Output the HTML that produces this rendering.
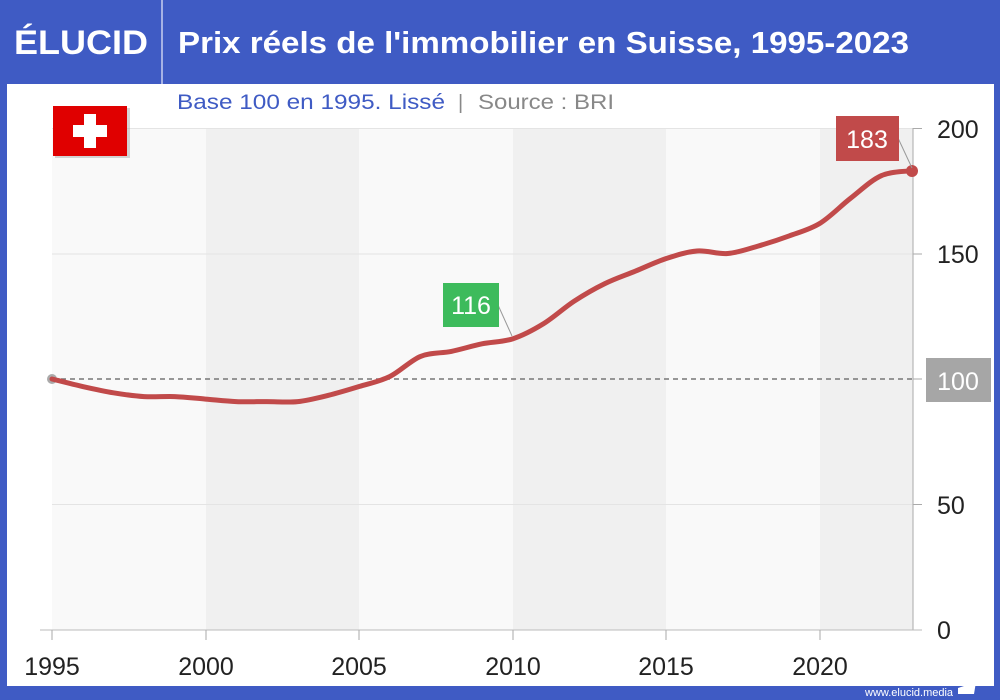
<!DOCTYPE html>
<html><head><meta charset="utf-8"><style>
body{margin:0;width:1000px;height:700px;background:#3f5bc4;font-family:"Liberation Sans",sans-serif;overflow:hidden;position:relative}
</style></head><body>
<svg width="1000" height="700" style="position:absolute;left:0;top:0">
<rect x="0" y="0" width="1000" height="700" fill="#3f5bc4"/>
<rect x="7" y="84" width="987" height="602" fill="#fff"/>
<line x1="162" y1="0" x2="162" y2="84" stroke="#c8d0f0" stroke-width="1.5"/>
<text x="14" y="54" font-size="34" font-weight="bold" fill="#fff" textLength="134" lengthAdjust="spacingAndGlyphs">ÉLUCID</text>
<text x="178" y="53" font-size="31" font-weight="bold" fill="#fff" textLength="731" lengthAdjust="spacingAndGlyphs">Prix réels de l'immobilier en Suisse, 1995-2023</text>
<text x="177" y="109" font-size="21" fill="#3f5bc4" textLength="268" lengthAdjust="spacingAndGlyphs">Base 100 en 1995. Lissé</text>
<text x="458" y="109" font-size="20" fill="#888">|</text>
<text x="478" y="109" font-size="21" fill="#888" textLength="136" lengthAdjust="spacingAndGlyphs">Source : BRI</text>
<rect x="52" y="128" width="154" height="502" fill="#f9f9f9"/>
<rect x="206" y="128" width="153" height="502" fill="#f0f0f0"/>
<rect x="359" y="128" width="154" height="502" fill="#f9f9f9"/>
<rect x="513" y="128" width="153" height="502" fill="#f0f0f0"/>
<rect x="666" y="128" width="154" height="502" fill="#f9f9f9"/>
<rect x="820" y="128" width="93" height="502" fill="#f0f0f0"/>
<g stroke="#e4e4e4" stroke-width="1">
<line x1="52" y1="128.5" x2="913" y2="128.5"/><line x1="52" y1="254" x2="913" y2="254"/><line x1="52" y1="504.5" x2="913" y2="504.5"/>
</g>
<line x1="913" y1="128" x2="913" y2="630" stroke="#aaa"/>
<line x1="40" y1="630" x2="922" y2="630" stroke="#bbb"/>
<g stroke="#aaa"><line x1="913" y1="128.5" x2="922" y2="128.5"/><line x1="913" y1="254" x2="922" y2="254"/><line x1="913" y1="379" x2="922" y2="379"/><line x1="913" y1="504.5" x2="922" y2="504.5"/>
<line x1="52" y1="630" x2="52" y2="640"/><line x1="206" y1="630" x2="206" y2="640"/><line x1="359" y1="630" x2="359" y2="640"/><line x1="513" y1="630" x2="513" y2="640"/><line x1="666" y1="630" x2="666" y2="640"/><line x1="820" y1="630" x2="820" y2="640"/></g>
<g font-size="25" fill="#222">
<text x="937" y="138">200</text><text x="937" y="263">150</text><text x="937" y="514">50</text><text x="937" y="639">0</text>
<g text-anchor="middle"><text x="52" y="675">1995</text><text x="206" y="675">2000</text><text x="359" y="675">2005</text><text x="513" y="675">2010</text><text x="666" y="675">2015</text><text x="820" y="675">2020</text></g>
</g>
<line x1="52" y1="379" x2="913" y2="379" stroke="#777" stroke-width="1.5" stroke-dasharray="5,4"/>
<circle cx="52" cy="379" r="5" fill="#aaa"/>
<rect x="926" y="358" width="65" height="44" fill="#a6a6a6"/>
<text x="958" y="390" font-size="25" fill="#fff" text-anchor="middle">100</text>
<path id="ln" fill="none" stroke="#c14a4a" stroke-width="5" stroke-linejoin="round" stroke-linecap="round" d=""/>
<circle cx="912" cy="171" r="6" fill="#c14a4a"/>
<line x1="898" y1="138" x2="912" y2="168" stroke="#999"/>
<rect x="836" y="116" width="63" height="45" fill="#c14a4a"/>
<text x="867" y="148" font-size="25" fill="#fff" text-anchor="middle">183</text>
<line x1="498" y1="305" x2="512" y2="336" stroke="#999"/>
<rect x="443" y="283" width="56" height="44" fill="#3dbb5c"/>
<text x="471" y="314" font-size="25" fill="#fff" text-anchor="middle">116</text>
<rect x="55" y="108" width="75" height="50" fill="#999" opacity="0.4"/>
<rect x="53" y="106" width="74" height="50" fill="#e00000"/>
<rect x="84" y="114" width="12" height="34" fill="#fff"/>
<rect x="73" y="125" width="34" height="12" fill="#fff"/>
<text x="865" y="696" font-size="11" fill="#fff">www.elucid.media</text>
<polygon points="958,688 976,682 974,694 958,694" fill="#fff"/>
</svg>
<script>
var v=[100,97,94.5,93,93,92,91,91,91,93.5,97,101,109,111,114,116,122,131,138,143,148,151,150,153,157,162,172,181,183];
var p=v.map(function(a,i){return [52+i*30.714,630-a*2.51];});
var d="M"+p[0][0]+","+p[0][1];
for(var i=0;i<p.length-1;i++){var p0=p[i-1]||p[i],p1=p[i],p2=p[i+1],p3=p[i+2]||p2;
d+=" C"+(p1[0]+(p2[0]-p0[0])/6)+","+(p1[1]+(p2[1]-p0[1])/6)+" "+(p2[0]-(p3[0]-p1[0])/6)+","+(p2[1]-(p3[1]-p1[1])/6)+" "+p2[0]+","+p2[1];}
document.getElementById("ln").setAttribute("d",d);
</script>
</body></html>
